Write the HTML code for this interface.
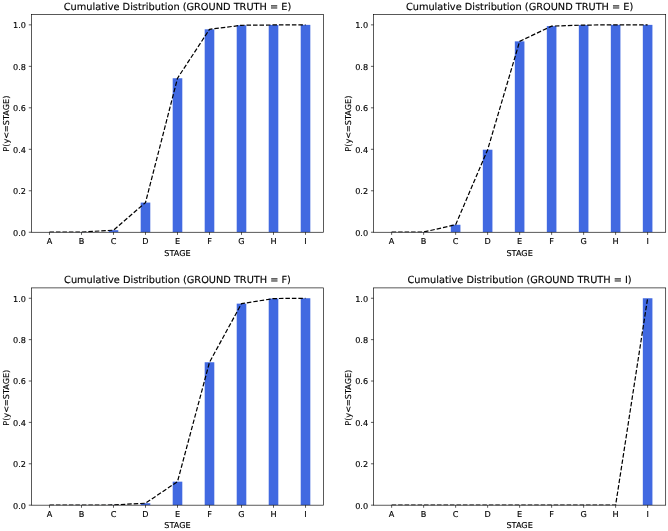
<!DOCTYPE html>
<html lang="en"><head><meta charset="utf-8"><title>Cumulative Distribution</title>
<style>html,body{margin:0;padding:0;background:#fff}svg{display:block;text-rendering:geometricPrecision}text{stroke:#000;stroke-width:0.14px;stroke-linejoin:round}</style></head>
<body>
<svg width="668" height="531" viewBox="0 0 668 531" font-family='"DejaVu Sans", "Liberation Sans", sans-serif' fill="#000" stroke="none">
<rect width="668" height="531" fill="#fff"/>
<clipPath id="c0"><rect x="31.40" y="14.50" width="292.20" height="217.75"/></clipPath>
<g clip-path="url(#c0)">
<rect x="44.68" y="232.19" width="9.60" height="0.06" fill="#4169e1"/>
<rect x="76.69" y="232.04" width="9.60" height="0.21" fill="#4169e1"/>
<rect x="108.69" y="230.18" width="9.60" height="2.07" fill="#4169e1"/>
<rect x="140.69" y="202.59" width="9.60" height="29.66" fill="#4169e1"/>
<rect x="172.70" y="78.25" width="9.60" height="154.00" fill="#4169e1"/>
<rect x="204.70" y="29.31" width="9.60" height="202.94" fill="#4169e1"/>
<rect x="236.71" y="25.28" width="9.60" height="206.97" fill="#4169e1"/>
<rect x="268.71" y="24.97" width="9.60" height="207.28" fill="#4169e1"/>
<rect x="300.72" y="24.87" width="9.60" height="207.38" fill="#4169e1"/>
<polyline points="49.48,232.19 81.49,232.04 113.49,230.18 145.50,202.59 177.50,78.25 209.50,29.31 241.51,25.28 273.51,24.97 305.52,24.87" fill="none" stroke="#000" stroke-width="1.22" stroke-dasharray="4.52 1.96" stroke-linejoin="round"/>
</g>
<path d="M49.48 232.25v2.6M81.49 232.25v2.6M113.49 232.25v2.6M145.50 232.25v2.6M177.50 232.25v2.6M209.50 232.25v2.6M241.51 232.25v2.6M273.51 232.25v2.6M305.52 232.25v2.6M31.40 232.25h-2.6M31.40 190.77h-2.6M31.40 149.30h-2.6M31.40 107.82h-2.6M31.40 66.35h-2.6M31.40 24.87h-2.6" stroke="#000" stroke-width="0.65" fill="none"/>
<rect x="31.40" y="14.50" width="292.20" height="217.75" fill="none" stroke="#000" stroke-width="0.65"/>
<g font-size="8.15" text-anchor="middle">
<text x="49.48" y="244.14">A</text>
<text x="81.49" y="244.14">B</text>
<text x="113.49" y="244.14">C</text>
<text x="145.50" y="244.14">D</text>
<text x="177.50" y="244.14">E</text>
<text x="209.50" y="244.14">F</text>
<text x="241.51" y="244.14">G</text>
<text x="273.51" y="244.14">H</text>
<text x="305.52" y="244.14">I</text>
<text x="177.50" y="255.54">STAGE</text>
</g>
<g font-size="8.15" text-anchor="end">
<text x="25.90" y="235.67">0.0</text>
<text x="25.90" y="194.20">0.2</text>
<text x="25.90" y="152.72">0.4</text>
<text x="25.90" y="111.24">0.6</text>
<text x="25.90" y="69.77">0.8</text>
<text x="25.90" y="28.29">1.0</text>
</g>
<text font-size="8.15" text-anchor="middle" transform="translate(8.60 123.67) rotate(-90)">P(y&lt;=STAGE)</text>
<text font-size="9.78" text-anchor="middle" x="177.50" y="9.61">Cumulative Distribution (GROUND TRUTH = E)</text>
<clipPath id="c1"><rect x="373.56" y="14.50" width="292.14" height="217.75"/></clipPath>
<g clip-path="url(#c1)">
<rect x="386.84" y="232.19" width="9.60" height="0.06" fill="#4169e1"/>
<rect x="418.84" y="232.04" width="9.60" height="0.21" fill="#4169e1"/>
<rect x="450.83" y="224.78" width="9.60" height="7.47" fill="#4169e1"/>
<rect x="482.83" y="149.71" width="9.60" height="82.54" fill="#4169e1"/>
<rect x="514.83" y="41.36" width="9.60" height="190.89" fill="#4169e1"/>
<rect x="546.83" y="26.11" width="9.60" height="206.14" fill="#4169e1"/>
<rect x="578.83" y="25.08" width="9.60" height="207.17" fill="#4169e1"/>
<rect x="610.82" y="24.87" width="9.60" height="207.38" fill="#4169e1"/>
<rect x="642.82" y="24.87" width="9.60" height="207.38" fill="#4169e1"/>
<polyline points="391.64,232.19 423.64,232.04 455.63,224.78 487.63,149.71 519.63,41.36 551.63,26.11 583.63,25.08 615.62,24.87 647.62,24.87" fill="none" stroke="#000" stroke-width="1.22" stroke-dasharray="4.52 1.96" stroke-linejoin="round"/>
</g>
<path d="M391.64 232.25v2.6M423.64 232.25v2.6M455.63 232.25v2.6M487.63 232.25v2.6M519.63 232.25v2.6M551.63 232.25v2.6M583.63 232.25v2.6M615.62 232.25v2.6M647.62 232.25v2.6M373.56 232.25h-2.6M373.56 190.77h-2.6M373.56 149.30h-2.6M373.56 107.82h-2.6M373.56 66.35h-2.6M373.56 24.87h-2.6" stroke="#000" stroke-width="0.65" fill="none"/>
<rect x="373.56" y="14.50" width="292.14" height="217.75" fill="none" stroke="#000" stroke-width="0.65"/>
<g font-size="8.15" text-anchor="middle">
<text x="391.64" y="244.14">A</text>
<text x="423.64" y="244.14">B</text>
<text x="455.63" y="244.14">C</text>
<text x="487.63" y="244.14">D</text>
<text x="519.63" y="244.14">E</text>
<text x="551.63" y="244.14">F</text>
<text x="583.63" y="244.14">G</text>
<text x="615.62" y="244.14">H</text>
<text x="647.62" y="244.14">I</text>
<text x="519.63" y="255.54">STAGE</text>
</g>
<g font-size="8.15" text-anchor="end">
<text x="368.06" y="235.67">0.0</text>
<text x="368.06" y="194.20">0.2</text>
<text x="368.06" y="152.72">0.4</text>
<text x="368.06" y="111.24">0.6</text>
<text x="368.06" y="69.77">0.8</text>
<text x="368.06" y="28.29">1.0</text>
</g>
<text font-size="8.15" text-anchor="middle" transform="translate(350.76 123.67) rotate(-90)">P(y&lt;=STAGE)</text>
<text font-size="9.78" text-anchor="middle" x="519.63" y="9.61">Cumulative Distribution (GROUND TRUTH = E)</text>
<clipPath id="c2"><rect x="31.40" y="287.90" width="292.20" height="217.27"/></clipPath>
<g clip-path="url(#c2)">
<rect x="76.69" y="505.11" width="9.60" height="0.06" fill="#4169e1"/>
<rect x="108.69" y="504.96" width="9.60" height="0.21" fill="#4169e1"/>
<rect x="140.69" y="503.22" width="9.60" height="1.95" fill="#4169e1"/>
<rect x="172.70" y="481.66" width="9.60" height="23.51" fill="#4169e1"/>
<rect x="204.70" y="362.25" width="9.60" height="142.92" fill="#4169e1"/>
<rect x="236.71" y="303.63" width="9.60" height="201.54" fill="#4169e1"/>
<rect x="268.71" y="298.56" width="9.60" height="206.61" fill="#4169e1"/>
<rect x="300.72" y="298.25" width="9.60" height="206.92" fill="#4169e1"/>
<polyline points="49.48,505.17 81.49,505.11 113.49,504.96 145.50,503.22 177.50,481.66 209.50,362.25 241.51,303.63 273.51,298.56 305.52,298.25" fill="none" stroke="#000" stroke-width="1.22" stroke-dasharray="4.52 1.96" stroke-linejoin="round"/>
</g>
<path d="M49.48 505.17v2.6M81.49 505.17v2.6M113.49 505.17v2.6M145.50 505.17v2.6M177.50 505.17v2.6M209.50 505.17v2.6M241.51 505.17v2.6M273.51 505.17v2.6M305.52 505.17v2.6M31.40 505.17h-2.6M31.40 463.79h-2.6M31.40 422.40h-2.6M31.40 381.02h-2.6M31.40 339.63h-2.6M31.40 298.25h-2.6" stroke="#000" stroke-width="0.65" fill="none"/>
<rect x="31.40" y="287.90" width="292.20" height="217.27" fill="none" stroke="#000" stroke-width="0.65"/>
<g font-size="8.15" text-anchor="middle">
<text x="49.48" y="517.06">A</text>
<text x="81.49" y="517.06">B</text>
<text x="113.49" y="517.06">C</text>
<text x="145.50" y="517.06">D</text>
<text x="177.50" y="517.06">E</text>
<text x="209.50" y="517.06">F</text>
<text x="241.51" y="517.06">G</text>
<text x="273.51" y="517.06">H</text>
<text x="305.52" y="517.06">I</text>
<text x="177.50" y="528.46">STAGE</text>
</g>
<g font-size="8.15" text-anchor="end">
<text x="25.90" y="508.59">0.0</text>
<text x="25.90" y="467.21">0.2</text>
<text x="25.90" y="425.82">0.4</text>
<text x="25.90" y="384.44">0.6</text>
<text x="25.90" y="343.05">0.8</text>
<text x="25.90" y="301.67">1.0</text>
</g>
<text font-size="8.15" text-anchor="middle" transform="translate(8.60 397.73) rotate(-90)">P(y&lt;=STAGE)</text>
<text font-size="9.78" text-anchor="middle" x="177.50" y="283.01">Cumulative Distribution (GROUND TRUTH = F)</text>
<clipPath id="c3"><rect x="373.56" y="287.90" width="292.14" height="217.27"/></clipPath>
<g clip-path="url(#c3)">
<rect x="642.82" y="298.25" width="9.60" height="206.92" fill="#4169e1"/>
<polyline points="391.64,505.17 423.64,505.17 455.63,505.17 487.63,505.17 519.63,505.17 551.63,505.17 583.63,505.17 615.62,505.17 647.62,298.25" fill="none" stroke="#000" stroke-width="1.22" stroke-dasharray="4.52 1.96" stroke-linejoin="round"/>
</g>
<path d="M391.64 505.17v2.6M423.64 505.17v2.6M455.63 505.17v2.6M487.63 505.17v2.6M519.63 505.17v2.6M551.63 505.17v2.6M583.63 505.17v2.6M615.62 505.17v2.6M647.62 505.17v2.6M373.56 505.17h-2.6M373.56 463.79h-2.6M373.56 422.40h-2.6M373.56 381.02h-2.6M373.56 339.63h-2.6M373.56 298.25h-2.6" stroke="#000" stroke-width="0.65" fill="none"/>
<rect x="373.56" y="287.90" width="292.14" height="217.27" fill="none" stroke="#000" stroke-width="0.65"/>
<g font-size="8.15" text-anchor="middle">
<text x="391.64" y="517.06">A</text>
<text x="423.64" y="517.06">B</text>
<text x="455.63" y="517.06">C</text>
<text x="487.63" y="517.06">D</text>
<text x="519.63" y="517.06">E</text>
<text x="551.63" y="517.06">F</text>
<text x="583.63" y="517.06">G</text>
<text x="615.62" y="517.06">H</text>
<text x="647.62" y="517.06">I</text>
<text x="519.63" y="528.46">STAGE</text>
</g>
<g font-size="8.15" text-anchor="end">
<text x="368.06" y="508.59">0.0</text>
<text x="368.06" y="467.21">0.2</text>
<text x="368.06" y="425.82">0.4</text>
<text x="368.06" y="384.44">0.6</text>
<text x="368.06" y="343.05">0.8</text>
<text x="368.06" y="301.67">1.0</text>
</g>
<text font-size="8.15" text-anchor="middle" transform="translate(350.76 397.73) rotate(-90)">P(y&lt;=STAGE)</text>
<text font-size="9.78" text-anchor="middle" x="519.63" y="283.01">Cumulative Distribution (GROUND TRUTH = I)</text>
</svg>
</body></html>
